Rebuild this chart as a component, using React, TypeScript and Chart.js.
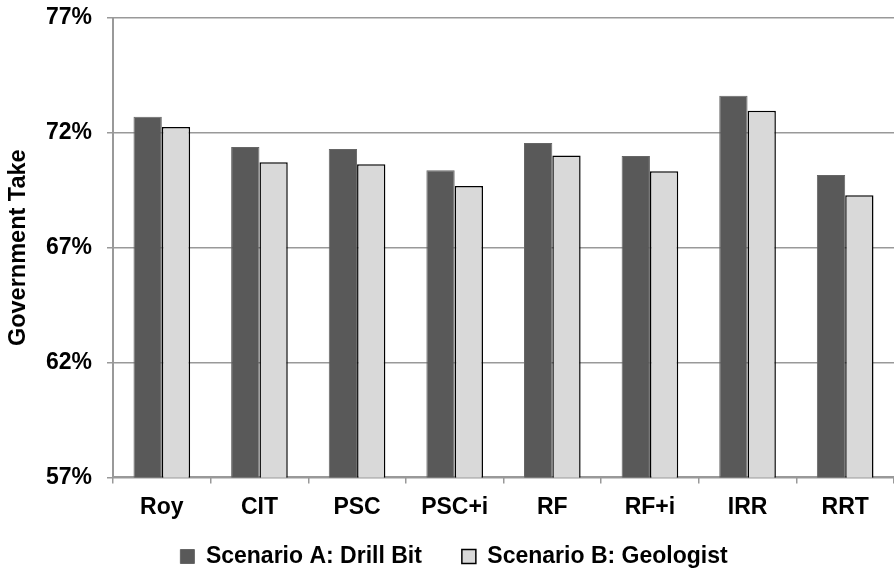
import React, { useEffect, useRef } from "react";
import { Chart, registerables } from "chart.js";

Chart.register(...registerables);

// Fiscal regimes compared
const categories = ["Roy", "CIT", "PSC", "PSC+i", "RF", "RF+i", "IRR", "RRT"];

// Government take (%) for each scenario
const scenarioA = [72.7, 71.38, 71.3, 70.37, 71.56, 70.99, 73.62, 70.17];
const scenarioB = [72.26, 70.72, 70.63, 69.69, 71.01, 70.33, 72.96, 69.28];

const seriesNames = ["Scenario A: Drill Bit", "Scenario B: Geologist"];

// Value axis range and step
const yMin = 57;
const yMax = 77;
const yStep = 5;

const FONT = "'Liberation Sans', Arial, Helvetica, sans-serif";

// Keeps the wide gap between legend entries while making the legend band
// shorter, so the plot area reaches further down.
const LEGEND_TRIM = 33;
const LEGEND_LIFT = 26;
const LEGEND_SHIFT_X = 7;

const legendLayout = {
  id: "legendLayout",
  beforeLayout(chart: any) {
    const legend = chart.legend;
    if (legend && !legend.__trimmed) {
      const baseFit = legend.fit;
      legend.fit = function (this: any) {
        baseFit.call(this);
        this.height -= LEGEND_TRIM;
      };
      legend.__trimmed = true;
    }
  },
  afterLayout(chart: any) {
    const legend = chart.legend;
    if (!legend) return;
    // move the top edge up, keep the bottom edge so the clip box holds the text
    legend.top -= LEGEND_LIFT;
    legend.left += LEGEND_SHIFT_X;
    legend.right += LEGEND_SHIFT_X;
  },
};

export default function App() {
  const canvasRef = useRef<HTMLCanvasElement | null>(null);

  useEffect(() => {
    const canvas = canvasRef.current;
    if (!canvas) return;
    Chart.defaults.color = "#000";

    const chart = new Chart(canvas, {
      type: "bar",
      data: {
        labels: categories,
        datasets: [
          {
            label: seriesNames[0],
            data: scenarioA,
            backgroundColor: "#595959",
            borderColor: "#666666",
            borderWidth: 1,
            categoryPercentage: 0.58,
            barPercentage: 1,
          },
          {
            label: seriesNames[1],
            data: scenarioB,
            backgroundColor: "#d9d9d9",
            borderColor: "#000000",
            borderWidth: 1.5,
            categoryPercentage: 0.58,
            barPercentage: 1,
          },
        ],
      },
      plugins: [legendLayout],
      options: {
        animation: false,
        responsive: true,
        maintainAspectRatio: false,
        layout: { padding: { left: 0, right: 0, top: 18, bottom: 0 } },
        plugins: {
          tooltip: { enabled: false },
          legend: {
            position: "bottom",
            labels: {
              font: { family: FONT, size: 23, weight: "bold" },
              color: "#000",
              boxWidth: 14,
              boxHeight: 14,
              padding: 40,
            },
          },
        },
        scales: {
          x: {
            grid: {
              display: true,
              drawOnChartArea: false,
              drawTicks: true,
              tickLength: 6,
              color: "#999999",
              lineWidth: 1.5,
              offset: true,
            },
            border: { display: true, color: "#999999", width: 2 },
            ticks: {
              font: { family: FONT, size: 23, weight: "bold" },
              color: "#000",
              padding: 10,
              maxRotation: 0,
            },
          },
          y: {
            min: yMin,
            max: yMax,
            afterFit: (scale: any) => {
              scale.width = 113;
              scale.paddingTop = 0;
              scale.paddingBottom = 0;
            },
            grid: {
              color: "#999999",
              lineWidth: 1.5,
              tickLength: 6,
              drawTicks: true,
            },
            border: { display: true, color: "#999999", width: 2 },
            ticks: {
              stepSize: yStep,
              font: { family: FONT, size: 23, weight: "bold" },
              color: "#000",
              padding: 15,
              callback: (v: any) => `${v}%`,
            },
            title: {
              display: true,
              text: "Government Take",
              font: { family: FONT, size: 23.5, weight: "bold" },
              color: "#000",
              padding: { top: 4, bottom: 0 },
            },
          },
        },
      },
    });

    return () => chart.destroy();
  }, []);

  return (
    <div
      style={{
        position: "fixed",
        left: 0,
        top: 0,
        width: 894,
        height: 571,
        background: "#fff",
      }}
    >
      <canvas ref={canvasRef} />
    </div>
  );
}
